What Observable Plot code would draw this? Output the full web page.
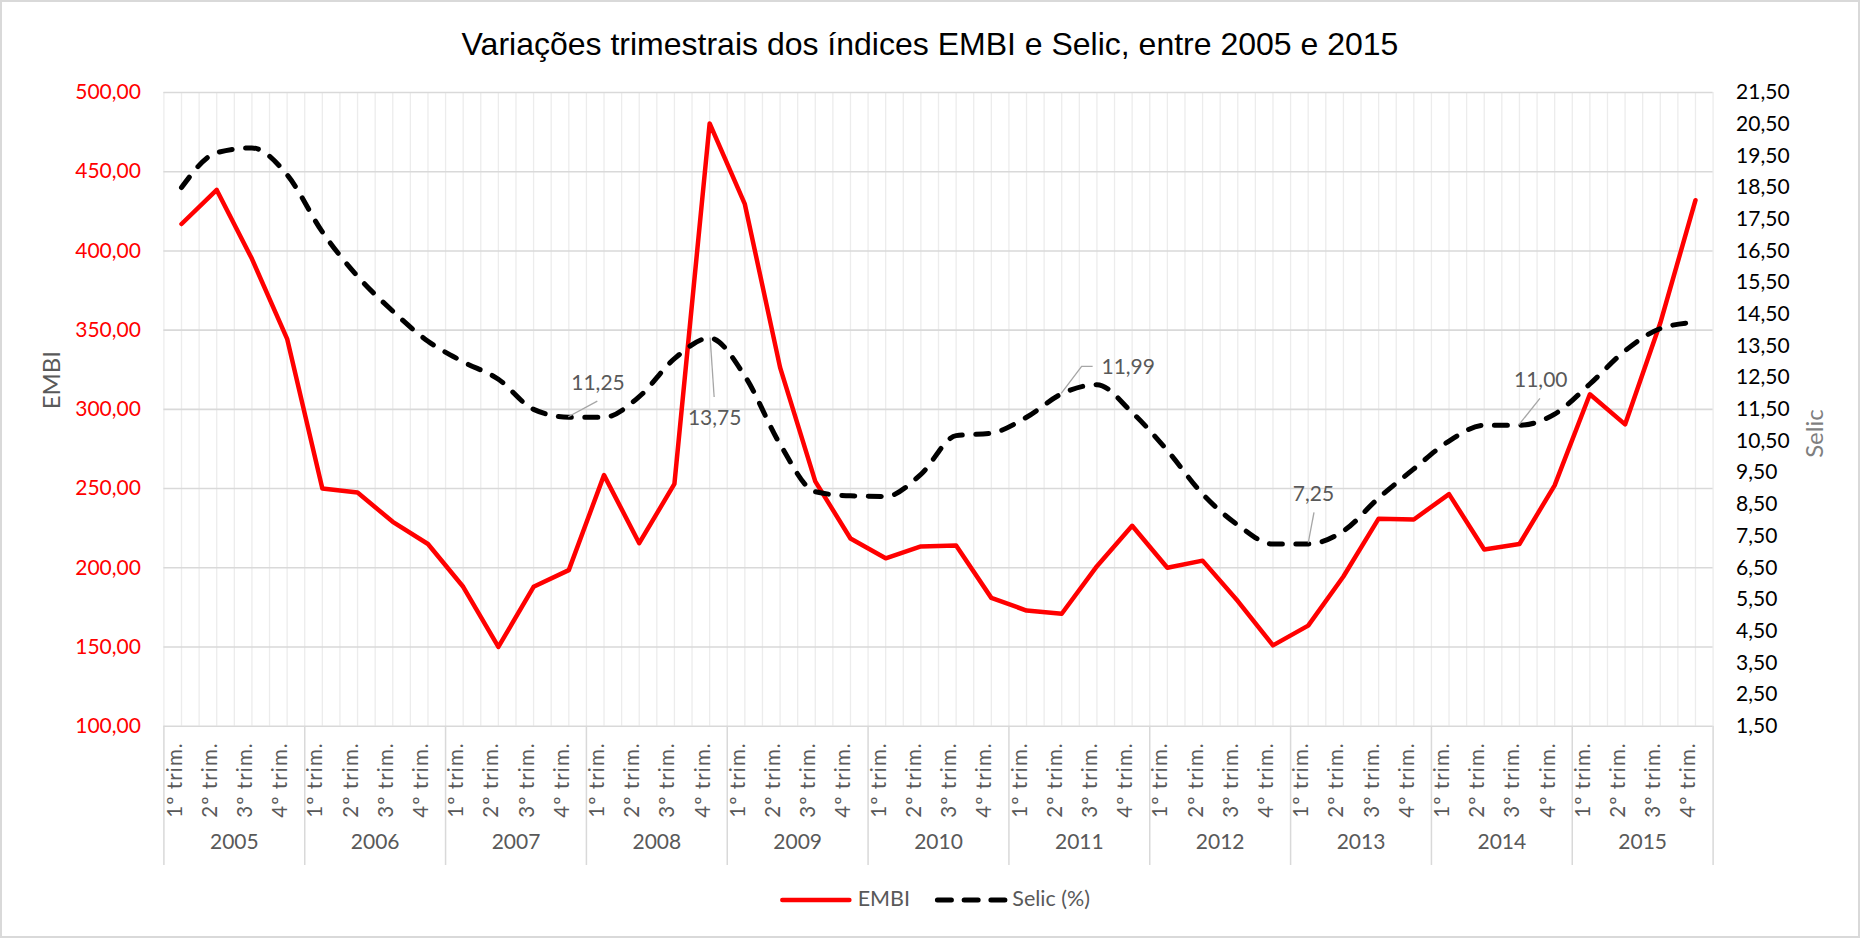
<!DOCTYPE html>
<html>
<head>
<meta charset="utf-8">
<script src="https://cdn.jsdelivr.net/npm/d3@7"></script>
<script src="https://cdn.jsdelivr.net/npm/@observablehq/plot@0.6"></script>
<style>
html, body { margin: 0; padding: 0; background: #fff; }
#wrap { position: relative; width: 1860px; height: 938px; overflow: hidden; background: #fff; }
#frame { position: absolute; left: 0; top: 0; width: 1860px; height: 938px; box-sizing: border-box; border: 2px solid #d9d9d9; pointer-events: none; }
#title { position: absolute; left: 0; top: 28px; width: 1860px; text-align: center; font-family: "Liberation Sans", Arial, sans-serif; font-size: 32px; line-height: 32px; color: #000; white-space: nowrap; }
#chart { position: absolute; left: 0; top: 80px; }
#legend { position: absolute; left: 0; top: 880px; width: 1860px; height: 58px; font-family: Lato, sans-serif; font-size: 21.5px; color: #595959; }
#legend span { position: absolute; top: 8.1px; line-height: 21.5px; white-space: nowrap; }
#legend svg { position: absolute; overflow: visible; }
</style>
</head>
<body>
<div id="wrap">
  <div id="title">Variações trimestrais dos índices EMBI e Selic, entre 2005 e 2015</div>
  <div id="chart"></div>
  <div id="legend">
    <svg style="left:776px;top:8px" width="80" height="24"><line x1="6.3" x2="73.4" y1="12" y2="12" stroke="#ff0000" stroke-width="4.5" stroke-linecap="round"/></svg>
    <span style="left:857.7px">EMBI</span>
    <svg style="left:930px;top:8px" width="80" height="24"><line x1="7.4" x2="74.9" y1="12" y2="12" stroke="#000" stroke-width="5" stroke-linecap="round" stroke-dasharray="14,12.75"/></svg>
    <span style="left:1012.3px">Selic (%)</span>
  </div>
  <div id="frame"></div>
</div>
<script>
// ---------- data ----------
const years = ["2005", "2006", "2007", "2008", "2009", "2010", "2011", "2012", "2013", "2014", "2015"];
const quarterNames = ["1º trim.", "2º trim.", "3º trim.", "4º trim."];
const embi = [
  417, 438.5, 395, 344.5,
  250, 247.5, 229, 215,
  188, 150, 188, 198.5,
  258.5, 215.5, 253, 480.5,
  429.5, 326.5, 254.5, 218.5,
  206, 213.5, 214, 181,
  173, 171, 201, 226.5,
  200, 204.5, 179, 151,
  163.5, 194.5, 231, 230.5,
  246.5, 211.5, 215, 252,
  309.5, 290.5, 354.5, 432
];
const selic = [
  18.5, 19.6, 19.75, 18.9,
  17.1, 15.7, 14.6, 13.65,
  13.0, 12.45, 11.5, 11.25,
  11.25, 11.9, 13.1, 13.75,
  12.55, 10.4, 8.9, 8.77,
  8.75, 9.45, 10.67, 10.75,
  11.25, 11.99, 12.28, 11.4,
  10.2, 8.83, 7.85, 7.25,
  7.25, 7.66, 8.7, 9.62,
  10.5, 11.0, 11.0, 11.35,
  12.3, 13.35, 14.05, 14.25
];
const embiTicks = [100, 150, 200, 250, 300, 350, 400, 450, 500];
const selicTicks = [1.5, 2.5, 3.5, 4.5, 5.5, 6.5, 7.5, 8.5, 9.5, 10.5, 11.5, 12.5, 13.5, 14.5, 15.5, 16.5, 17.5, 18.5, 19.5, 20.5, 21.5];
const labelledPoints = [11, 15, 25, 32, 38];   // Selic points with data labels

// ---------- helpers ----------
const embiMin = embiTicks[0], embiMax = embiTicks[embiTicks.length - 1];
const selicMin = selicTicks[0], selicMax = selicTicks[selicTicks.length - 1];
const toY = s => embiMin + (s - selicMin) * (embiMax - embiMin) / (selicMax - selicMin);
const fromY = y => selicMin + (y - embiMin) * (selicMax - selicMin) / (embiMax - embiMin);
const fmt = v => v.toFixed(2).replace(".", ",");

const n = embi.length;
const rows = d3.range(n).map(i => ({
  i, year: years[Math.floor(i / 4)], quarter: quarterNames[i % 4], embi: embi[i], selic: selic[i]
}));

// label styling (pixel offsets from the data point)
const labelStyle = {
  11: {dx: 29.2, dy: -33.6, leader: [[0, 0], [29, -15.6]]},
  15: {dx: 5, dy: 80.5, leader: [[1, 0], [5, 59.5]]},
  25: {dx: 66.5, dy: -26.6, leader: [[0, 0], [20.4, -27], [31.4, -27]]},
  32: {dx: 5.3, dy: -49.5, leader: [[0.6, -0.8], [6.3, -31.1]]},
  38: {dx: 21.3, dy: -44.5, leader: [[0, 0], [21, -26.4]]}
};

const labelMarks = labelledPoints.map(i => Plot.text([rows[i]], {
  x: "i", y: d => toY(d.selic), text: d => fmt(d.selic),
  dx: labelStyle[i].dx, dy: labelStyle[i].dy,
  fontSize: 21, fill: "#595959"
}));

const chart = Plot.plot({
  width: 1860,
  height: 800,
  marginTop: 12,
  marginBottom: 154.3,
  marginLeft: 163.4,
  marginRight: 147.4,
  x: {type: "linear", domain: [-0.5, n - 0.5], axis: null},
  y: {type: "linear", domain: [embiMin, embiMax], axis: null},
  style: {fontFamily: "Lato, sans-serif", background: "transparent", overflow: "visible"},
  marks: [
    Plot.ruleX(d3.range(-0.5, n, 0.5), {stroke: "#ececec", strokeWidth: 1.3}),
    Plot.ruleY(embiTicks, {stroke: "#d9d9d9", strokeWidth: 1.6}),
    Plot.ruleX(d3.range(0, n + 1, 4).map(k => k - 0.5), {y1: embiMin, y2: embiMin, insetBottom: -139.3, stroke: "#d9d9d9", strokeWidth: 1.5}),
    Plot.axisY(embiTicks, {anchor: "left", tickSize: 0, tickPadding: 23, tickFormat: fmt, fontSize: 21, color: "#ff0000", label: null}),
    Plot.axisY(selicTicks.map(toY), {anchor: "right", tickSize: 0, tickPadding: 23, tickFormat: d => fmt(fromY(d)), fontSize: 21, color: "#000000", label: null}),
    Plot.text(["EMBI"], {frameAnchor: "left", text: d => d, rotate: -90, dx: -112, fontSize: 24, fill: "#595959"}),
    Plot.text(["Selic"], {frameAnchor: "right", text: d => d, rotate: -90, dx: 102.4, fontSize: 24, fill: "#7f7f7f"}),
    Plot.text(rows, {x: "i", frameAnchor: "bottom", text: "quarter", rotate: -90, textAnchor: "end", dy: 16, fontSize: 20.5, fill: "#595959"}),
    Plot.text(years, {x: (d, k) => 4 * k + 1.5, frameAnchor: "bottom", text: d => d, dy: 123, fontSize: 21, fill: "#595959"}),
    Plot.line(rows, {x: "i", y: "embi", stroke: "#ff0000", strokeWidth: 4.5, strokeLinejoin: "round", strokeLinecap: "round"}),
    Plot.line(rows, {x: "i", y: d => toY(d.selic), stroke: "#000000", strokeWidth: 5, strokeDasharray: "13,13.5", strokeLinecap: "round", strokeLinejoin: "round", curve: "monotone-x"}),
    ...labelMarks
  ]
});

// leader lines for the data labels, positioned through the chart's own scales
const sx = chart.scale("x"), sy = chart.scale("y");
const svg = d3.select(chart);
const leaderG = svg.append("g").attr("fill", "none").attr("stroke", "#a6a6a6").attr("stroke-width", 1.3);
for (const i of labelledPoints) {
  const px = sx.apply(i), py = sy.apply(toY(selic[i]));
  leaderG.append("path").attr("d", d3.line()(labelStyle[i].leader.map(([dx, dy]) => [px + dx, py + dy])));
}
// slight letter spacing on the category labels
svg.selectAll("text").filter(function () { return /trim\./.test(this.textContent); }).attr("letter-spacing", "1.1px");

document.getElementById("chart").appendChild(chart);
</script>
</body>
</html>
